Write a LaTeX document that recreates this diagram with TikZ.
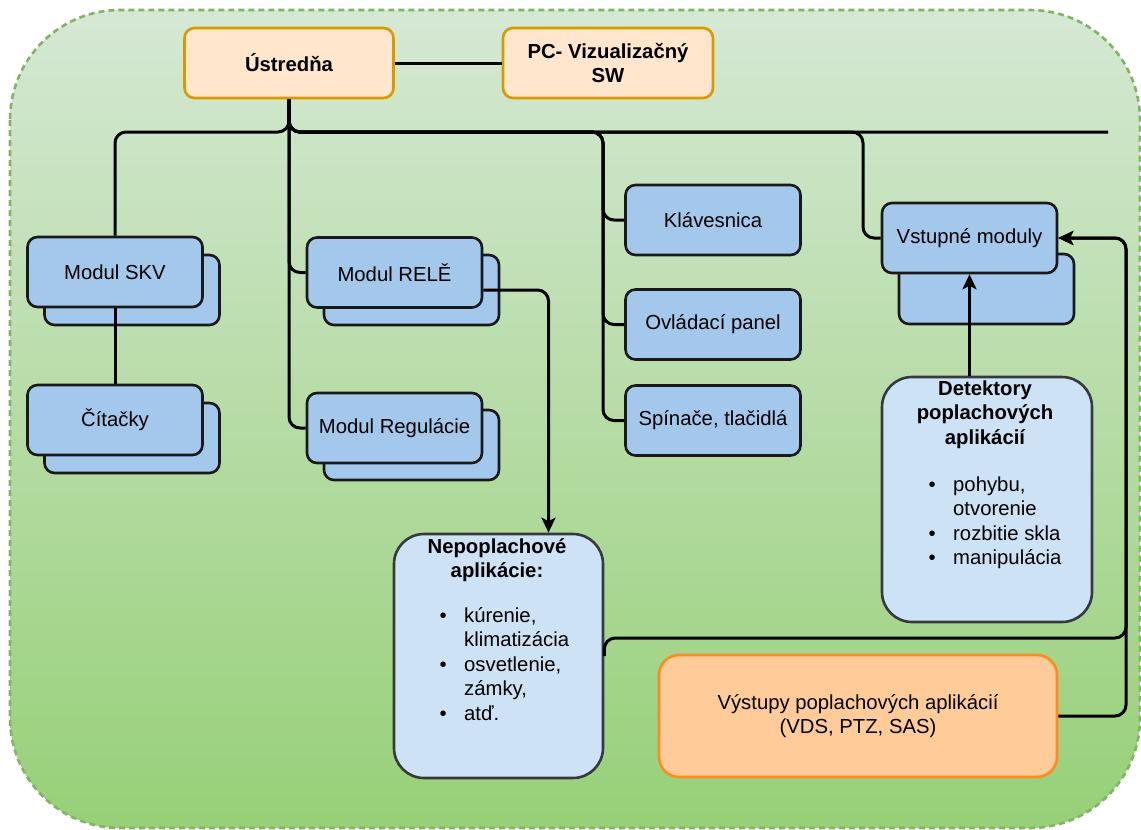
\documentclass[tikz,border=0pt]{standalone}
\usepackage{fontspec}
\setmainfont{Liberation Sans}
\usetikzlibrary{arrows.meta,calc}

\definecolor{bgtop}{HTML}{D5E8D4}
\definecolor{bgbot}{HTML}{97D077}
\definecolor{bgline}{HTML}{82B366}
\definecolor{modfill}{HTML}{A3C8EC}
\definecolor{lightfill}{HTML}{CDE2F5}
\definecolor{greyline}{HTML}{36393D}
\definecolor{ctrfill}{HTML}{FFE6CC}
\definecolor{ctrline}{HTML}{D79B00}
\definecolor{outfill}{HTML}{FFCC99}
\definecolor{outstroke}{HTML}{FF8A1F}

\newcommand\txt{\fontsize{20.3}{24.5}\selectfont}
% centred block of lines, baseline on the first line
\newcommand\ctrlines[1]{\vtop{\halign{\hfil##\hfil\cr#1\crcr}}}
% bulleted line
\newcommand\itm[1]{\hbox{\llap{\textbullet\hskip 17.5pt}#1}}

\tikzset{
  box/.style={line width=2.6pt, rounded corners=10pt, minimum width=175pt,
    minimum height=70pt, inner sep=0pt, font=\txt, align=center},
  modbox/.style={box, draw=black!90, fill=modfill},
  ctrbox/.style={box, draw=ctrline, fill=ctrfill, minimum width=210pt, font=\txt\bfseries},
  bigbox/.style={box, draw=greyline, fill=lightfill, rounded corners=30pt, minimum width=210pt},
  outbox/.style={box, draw=outstroke, fill=outfill, rounded corners=20pt},
  label/.style={inner sep=0pt, font=\txt},
  wire/.style={line width=3pt, rounded corners=11pt, black},
  arrowwire/.style={wire, -{Stealth[length=15pt,width=14pt,inset=3.5pt]}},
}

\begin{document}
\begin{tikzpicture}[x=1pt, y=-1pt]
\useasboundingbox (0,0) rectangle (1141,830);

% background area
\path[draw=bgline, line width=2.6pt, dash pattern=on 6pt off 4pt,
  top color=bgtop, bottom color=bgbot, rounded corners=110pt]
  (10,10) rectangle (1140,828);

% central unit and PC
\node[ctrbox, minimum width=209pt] (ustr) at (289,63) {Ústredňa};
\node[ctrbox] (pc) at (608,63) {PC- Vizualizačný\\SW};

% stacked modules (back copy first)
\node[modbox] (skvB) at (132,290) {};
\node[modbox] (skv) at (115,272) {Modul SKV};
\node[modbox] (citB) at (132,438) {};
\node[modbox] (cit) at (115,420) {Čítačky};
\node[modbox] (releB) at (411.5,290) {};
\node[modbox] (rele) at (394.5,272.5) {Modul RELĚ};
\node[modbox] (regB) at (411.5,445) {};
\node[modbox] (reg) at (394.5,428) {Modul Regulácie};
\node[modbox] (vstB) at (986.5,289) {};
\node[modbox] (vst) at (969.5,238) {Vstupné moduly};

% single devices
\node[modbox] (klav) at (713,220) {Klávesnica};
\node[modbox] (ovl) at (713,324.5) {Ovládací panel};
\node[modbox] (spin) at (713,420.5) {Spínače, tlačidlá};

% non-alarm applications
\node[bigbox, minimum width=209pt, minimum height=244pt] (nep) at (498.5,656) {};
\node[label, anchor=base, font=\txt\bfseries] (nepT) at (497,553)
  {\ctrlines{Nepoplachové\cr aplikácie:}};
\node[label, anchor=base west] (nepL) at (464,622)
  {\vtop{\itm{kúrenie,}\hbox{klimatizácia}\itm{osvetlenie,}\hbox{zámky,}\itm{atď.}}};

% alarm detectors
\node[bigbox, minimum height=245pt] (det) at (987,499.5) {};
\node[label, anchor=base, font=\txt\bfseries] (detT) at (985,395)
  {\ctrlines{Detektory\cr poplachových\cr aplikácií}};
\node[label, anchor=base west] (detL) at (953,491)
  {\vtop{\itm{pohybu,}\hbox{otvorenie}\itm{rozbitie skla}\itm{manipulácia}}};

% alarm outputs
\node[outbox, minimum width=398pt, minimum height=122pt] (vys) at (858,716)
  {Výstupy poplachových aplikácií\\(VDS, PTZ, SAS)};

% bus from the central unit
\coordinate (busend) at (1108,132);
\draw[wire] (ustr.east) -- (pc.west);
\draw[wire] (ustr.south) |- (115,132) -- (skv.north);
\draw[wire] (ustr.south) |- (busend);
\draw[wire] (ustr.south) |- (603,132) |- (klav.west);
\draw[wire] (ustr.south) |- (603,132) |- (ovl.west);
\draw[wire] (ustr.south) |- (603,132) |- (spin.west);
\draw[wire] (ustr.south) |- (863,132) |- (vst.west);
\draw[wire] (ustr.south) |- (rele.west);
\draw[wire] (ustr.south) |- (reg.west);
\draw[wire] (skv.south) -- (cit.north);

% relay outputs to non-alarm applications
\draw[arrowwire] ($(rele.east)+(0,17.5)$) -| ($(nep.north)+(50,0)$);

% feeds into the input modules
\draw[arrowwire] (nep.east) |- (1126,638) |- (vst.east);
\draw[arrowwire] (vys.east) -- (1126,716) |- (vst.east);
\draw[arrowwire] (det.north -| vst.south) -- (vst.south);
\end{tikzpicture}
\end{document}
